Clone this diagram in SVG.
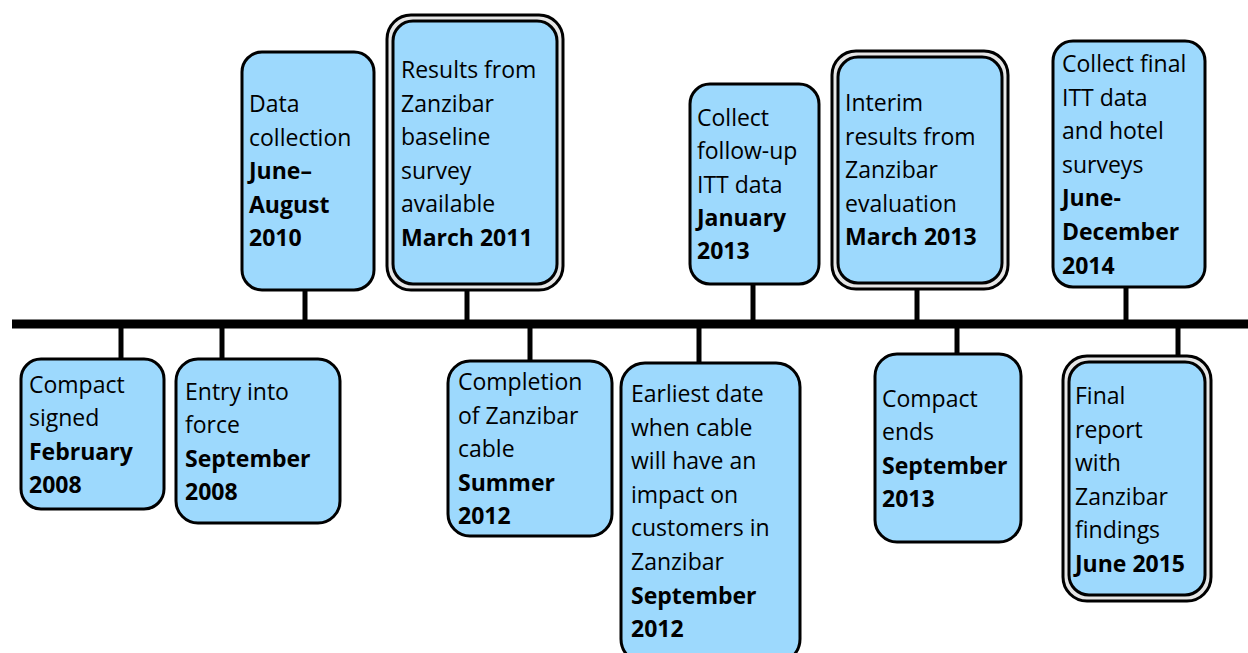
<svg xmlns="http://www.w3.org/2000/svg" width="1248" height="653" viewBox="0 0 1248 653">
<style>
.box{fill:#9dd9fd;stroke:#000;stroke-width:3}
.outer{fill:#e6e6e6;stroke:#000;stroke-width:3}
.t{font-family:"Open Sans",Lato,sans-serif;font-size:23px;fill:#000}
.b{font-weight:bold}
.c{stroke:#000;stroke-width:5;fill:none}
</style>
<rect width="1248" height="653" fill="#fff"/>
<g id="connectors">
<line x1="12" y1="324" x2="1248" y2="324" stroke="#000" stroke-width="9"/>
<line class="c" x1="305" y1="290" x2="305" y2="322"/>
<line class="c" x1="467" y1="289" x2="467" y2="322"/>
<line class="c" x1="753" y1="284" x2="753" y2="322"/>
<line class="c" x1="917" y1="289" x2="917" y2="322"/>
<line class="c" x1="1126" y1="287" x2="1126" y2="322"/>
<line class="c" x1="121" y1="326" x2="121" y2="359"/>
<line class="c" x1="222" y1="326" x2="222" y2="359"/>
<line class="c" x1="530" y1="326" x2="530" y2="361"/>
<line class="c" x1="699" y1="326" x2="699" y2="363"/>
<line class="c" x1="957" y1="326" x2="957" y2="354"/>
<line class="c" x1="1178" y1="326" x2="1178" y2="356"/>
</g>
<g id="n-data-collection">
<rect class="box" x="242" y="52" width="132" height="238" rx="20"/>
<text class="t" x="249" y="112"><tspan x="249">Data</tspan><tspan x="249" dy="33.6">collection</tspan><tspan class="b" x="249" dy="33.6">June–</tspan><tspan class="b" x="249" dy="33.6">August</tspan><tspan class="b" x="249" dy="33.6">2010</tspan></text>
</g>
<g id="n-baseline-results">
<rect class="outer" x="387" y="15" width="176" height="275" rx="24"/>
<rect class="box" x="393" y="21" width="164" height="263" rx="20"/>
<text class="t" x="401" y="78"><tspan x="401">Results from</tspan><tspan x="401" dy="33.6">Zanzibar</tspan><tspan x="401" dy="33.6">baseline</tspan><tspan x="401" dy="33.6">survey</tspan><tspan x="401" dy="33.6">available</tspan><tspan class="b" x="401" dy="33.6">March 2011</tspan></text>
</g>
<g id="n-followup-itt">
<rect class="box" x="690" y="84" width="129" height="200" rx="20"/>
<text class="t" x="697" y="126"><tspan x="697">Collect</tspan><tspan x="697" dy="33.3">follow-up</tspan><tspan x="697" dy="33.3">ITT data</tspan><tspan class="b" x="697" dy="33.3">January</tspan><tspan class="b" x="697" dy="33.3">2013</tspan></text>
</g>
<g id="n-interim-results">
<rect class="outer" x="832" y="51" width="176" height="238" rx="24"/>
<rect class="box" x="838" y="57" width="164" height="226" rx="20"/>
<text class="t" x="845" y="111"><tspan x="845">Interim</tspan><tspan x="845" dy="33.6">results from</tspan><tspan x="845" dy="33.6">Zanzibar</tspan><tspan x="845" dy="33.6">evaluation</tspan><tspan class="b" x="845" dy="33.6">March 2013</tspan></text>
</g>
<g id="n-final-itt">
<rect class="box" x="1053" y="41" width="152" height="246" rx="20"/>
<text class="t" x="1062" y="72"><tspan x="1062">Collect final</tspan><tspan x="1062" dy="33.6">ITT data</tspan><tspan x="1062" dy="33.6">and hotel</tspan><tspan x="1062" dy="33.6">surveys</tspan><tspan class="b" x="1062" dy="33.6">June-</tspan><tspan class="b" x="1062" dy="33.6">December</tspan><tspan class="b" x="1062" dy="33.6">2014</tspan></text>
</g>
<g id="n-compact-signed">
<rect class="box" x="21" y="359" width="143" height="150" rx="20"/>
<text class="t" x="29" y="393"><tspan x="29">Compact</tspan><tspan x="29" dy="33.4">signed</tspan><tspan class="b" x="29" dy="33.4">February</tspan><tspan class="b" x="29" dy="33.4">2008</tspan></text>
</g>
<g id="n-entry-into-force">
<rect class="box" x="176" y="359" width="164" height="164" rx="22"/>
<text class="t" x="185" y="400"><tspan x="185">Entry into</tspan><tspan x="185" dy="33.4">force</tspan><tspan class="b" x="185" dy="33.4">September</tspan><tspan class="b" x="185" dy="33.4">2008</tspan></text>
</g>
<g id="n-cable-completion">
<rect class="box" x="448" y="361" width="164" height="175" rx="22"/>
<text class="t" x="458" y="390"><tspan x="458">Completion</tspan><tspan x="458" dy="33.5">of Zanzibar</tspan><tspan x="458" dy="33.5">cable</tspan><tspan class="b" x="458" dy="33.5">Summer</tspan><tspan class="b" x="458" dy="33.5">2012</tspan></text>
</g>
<g id="n-earliest-impact">
<rect class="box" x="621" y="363" width="179" height="300" rx="24"/>
<text class="t" x="631" y="402"><tspan x="631">Earliest date</tspan><tspan x="631" dy="33.6">when cable</tspan><tspan x="631" dy="33.6">will have an</tspan><tspan x="631" dy="33.6">impact on</tspan><tspan x="631" dy="33.6">customers in</tspan><tspan x="631" dy="33.6">Zanzibar</tspan><tspan class="b" x="631" dy="33.6">September</tspan><tspan class="b" x="631" dy="33.6">2012</tspan></text>
</g>
<g id="n-compact-ends">
<rect class="box" x="875" y="354" width="146" height="188" rx="22"/>
<text class="t" x="882" y="407"><tspan x="882">Compact</tspan><tspan x="882" dy="33.4">ends</tspan><tspan class="b" x="882" dy="33.4">September</tspan><tspan class="b" x="882" dy="33.4">2013</tspan></text>
</g>
<g id="n-final-report">
<rect class="outer" x="1063" y="356" width="148" height="245" rx="24"/>
<rect class="box" x="1069" y="362" width="136" height="233" rx="20"/>
<text class="t" x="1075" y="404"><tspan x="1075">Final</tspan><tspan x="1075" dy="33.6">report</tspan><tspan x="1075" dy="33.6">with</tspan><tspan x="1075" dy="33.6">Zanzibar</tspan><tspan x="1075" dy="33.6">findings</tspan><tspan class="b" x="1075" dy="33.6">June 2015</tspan></text>
</g>
</svg>
